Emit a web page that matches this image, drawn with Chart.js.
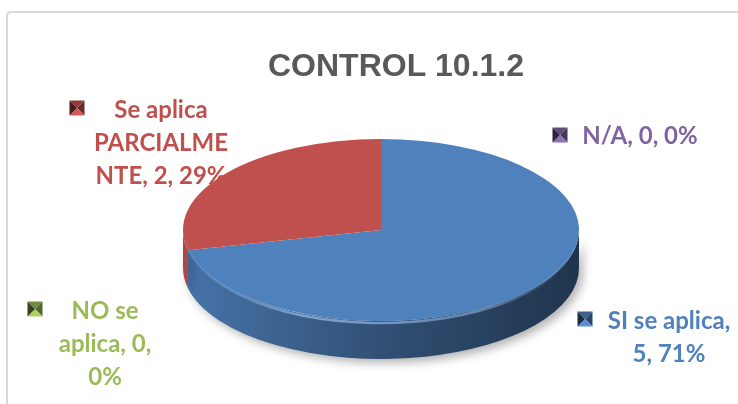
<!DOCTYPE html>
<html>
<head>
<meta charset="utf-8">
<script src="https://cdn.jsdelivr.net/npm/chart.js@4.4.1/dist/chart.umd.min.js"></script>
<style>
  html, body { margin: 0; padding: 0; background: #fff; }
  #wrap { width: 738px; height: 404px; }
</style>
</head>
<body>
<div id="wrap"><canvas id="pieChart" width="738" height="404"></canvas></div>
<script>
// Chart data
const categories = ["SI se aplica", "Se aplica PARCIALMENTE", "NO se aplica", "N/A"];
const counts = [5, 2, 0, 0];
const chartTitle = "CONTROL 10.1.2";

// Styles
const seriesColors = ["#4F81BD", "#C0504D", "#9BBB59", "#8064A2"];
const labelFont = "bold 24px Lato";
const labelLineHeight = 33;
// where Excel put each data label (text centre x, first line y, legend key, wrap width)
const labelLayout = [
  { x: 669, y: 321, kx: 585, ky: 319, maxW: 140 },
  { x: 161, y: 110, kx: 77, ky: 108, maxW: 142 },
  { x: 105, y: 311, kx: 35, ky: 309, maxW: 112 },
  { x: 640, y: 136, kx: 560, ky: 135, maxW: 200 },
];
// ellipse the pie gets squashed onto
const pieShape = { cx: 381, cy: 230, rx: 198, ry: 91, depth: 38 };

function shade(hex, f) {
  const n = parseInt(hex.slice(1), 16);
  const r = Math.min(255, Math.round(((n >> 16) & 255) * f));
  const g = Math.min(255, Math.round(((n >> 8) & 255) * f));
  const b = Math.min(255, Math.round((n & 255) * f));
  return `rgb(${r},${g},${b})`;
}

// Light grey frame of the chart object
const framePlugin = {
  id: "frame",
  beforeDraw(chart) {
    const ctx = chart.ctx;
    ctx.save();
    ctx.fillStyle = "#fff";
    ctx.fillRect(0, 0, chart.width, chart.height);
    ctx.strokeStyle = "#d9d9d9";
    ctx.lineWidth = 2;
    ctx.beginPath();
    ctx.moveTo(7, chart.height + 5);
    ctx.lineTo(7, 16);
    ctx.quadraticCurveTo(7, 12, 11, 12);
    ctx.lineTo(chart.width + 5, 12);
    ctx.stroke();
    ctx.restore();
  },
};

// Fake 3D: side wall first, then squash the top face into an ellipse
const pie3dPlugin = {
  id: "pie3d",
  beforeDatasetsDraw(chart) {
    const ctx = chart.ctx;
    const meta = chart.getDatasetMeta(0);
    const { cx, cy, rx, ry, depth } = pieShape;

    ctx.save();
    ctx.shadowColor = "rgba(0,0,0,0.3)";
    ctx.shadowBlur = 10;
    ctx.shadowOffsetX = 4;
    ctx.shadowOffsetY = 4;
    meta.data.forEach((arc, i) => {
      const a0 = arc.startAngle, a1 = arc.endAngle;
      if (a1 - a0 <= 0) return;
      const grad = ctx.createLinearGradient(cx - rx, 0, cx + rx, 0);
      grad.addColorStop(0, shade(seriesColors[i], 0.9));
      grad.addColorStop(0.5, shade(seriesColors[i], 0.62));
      grad.addColorStop(1, shade(seriesColors[i], 0.4));
      for (let k = -1; k <= 1; k++) {
        const lo = Math.max(a0, 2 * Math.PI * k);
        const hi = Math.min(a1, Math.PI + 2 * Math.PI * k);
        if (hi <= lo) continue;
        const s = lo - 2 * Math.PI * k, e = hi - 2 * Math.PI * k;
        ctx.beginPath();
        ctx.ellipse(cx, cy, rx, ry, 0, s, e);
        ctx.ellipse(cx, cy + depth, rx, ry, 0, e, s, true);
        ctx.closePath();
        ctx.fillStyle = grad;
        ctx.fill();
      }
    });
    ctx.restore();

    const first = meta.data[0];
    const R = first.outerRadius;
    ctx.save();
    ctx.translate(cx, cy);
    ctx.scale(rx / R, ry / R);
    ctx.translate(-first.x, -first.y);
  },
  afterDatasetsDraw(chart) {
    const ctx = chart.ctx;
    ctx.restore();
    const { cx, cy, rx, ry } = pieShape;
    // soft bevel highlight on the front rim
    ctx.save();
    const g = ctx.createLinearGradient(cx - rx, 0, cx + rx, 0);
    g.addColorStop(0, "rgba(150,185,230,0)");
    g.addColorStop(0.3, "rgba(150,185,230,0.75)");
    g.addColorStop(0.75, "rgba(150,185,230,0.55)");
    g.addColorStop(1, "rgba(150,185,230,0)");
    ctx.strokeStyle = g;
    ctx.lineWidth = 2.5;
    ctx.beginPath();
    ctx.ellipse(cx, cy + 3, rx - 3, ry - 1, 0, 0.05, Math.PI - 0.05);
    ctx.stroke();
    ctx.restore();
  },
};

function wrapText(ctx, text, maxW) {
  const words = text.split(" ");
  const lines = [];
  let line = "";
  words.forEach((w) => {
    const test = line ? line + " " + w : w;
    if (ctx.measureText(test).width <= maxW) {
      line = test;
      return;
    }
    if (line) lines.push(line);
    line = "";
    let rest = w;
    while (ctx.measureText(rest).width > maxW) {
      let n = rest.length;
      while (n > 1 && ctx.measureText(rest.slice(0, n)).width > maxW) n--;
      lines.push(rest.slice(0, n));
      rest = rest.slice(n);
    }
    line = rest;
  });
  if (line) lines.push(line);
  return lines;
}

function drawKey(ctx, x, y, color) {
  const h = 7.5;
  const tri = (pts, fill) => {
    ctx.beginPath();
    ctx.moveTo(pts[0], pts[1]);
    ctx.lineTo(pts[2], pts[3]);
    ctx.lineTo(x, y);
    ctx.closePath();
    ctx.fillStyle = fill;
    ctx.fill();
  };
  tri([x - h, y - h, x + h, y - h], shade(color, 0.75));
  tri([x + h, y - h, x + h, y + h], shade(color, 0.55));
  tri([x - h, y + h, x + h, y + h], shade(color, 1.12));
  tri([x - h, y - h, x - h, y + h], shade(color, 0.35));
}

// Data labels with legend keys, as Excel draws them
const dataLabelPlugin = {
  id: "dataLabels",
  afterDraw(chart) {
    const ctx = chart.ctx;
    const total = counts.reduce((a, b) => a + b, 0);
    ctx.save();
    ctx.font = labelFont;
    ctx.textAlign = "center";
    ctx.textBaseline = "middle";
    categories.forEach((cat, i) => {
      const pos = labelLayout[i];
      const pct = Math.round((counts[i] / total) * 100);
      const text = `${cat}, ${counts[i]}, ${pct}%`;
      const lines = wrapText(ctx, text, pos.maxW);
      ctx.fillStyle = seriesColors[i];
      lines.forEach((ln, j) => {
        ctx.fillText(ln, pos.x, pos.y + j * labelLineHeight);
      });
      drawKey(ctx, pos.kx, pos.ky, seriesColors[i]);
    });
    ctx.restore();
  },
};

const ctx = document.getElementById("pieChart").getContext("2d");
new Chart(ctx, {
  type: "pie",
  data: {
    labels: categories,
    datasets: [
      {
        data: counts,
        backgroundColor: seriesColors,
        borderWidth: 0,
      },
    ],
  },
  options: {
    responsive: false,
    animation: false,
    layout: { padding: { left: 54, right: 0, top: 0, bottom: 10 } },
    plugins: {
      legend: { display: false },
      tooltip: { enabled: false },
      title: {
        display: true,
        text: chartTitle,
        color: "#595959",
        font: { family: "Liberation Sans", size: 32, weight: "bold" },
        padding: { top: 48, bottom: 10 },
      },
    },
  },
  plugins: [framePlugin, pie3dPlugin, dataLabelPlugin],
});
</script>
</body>
</html>
